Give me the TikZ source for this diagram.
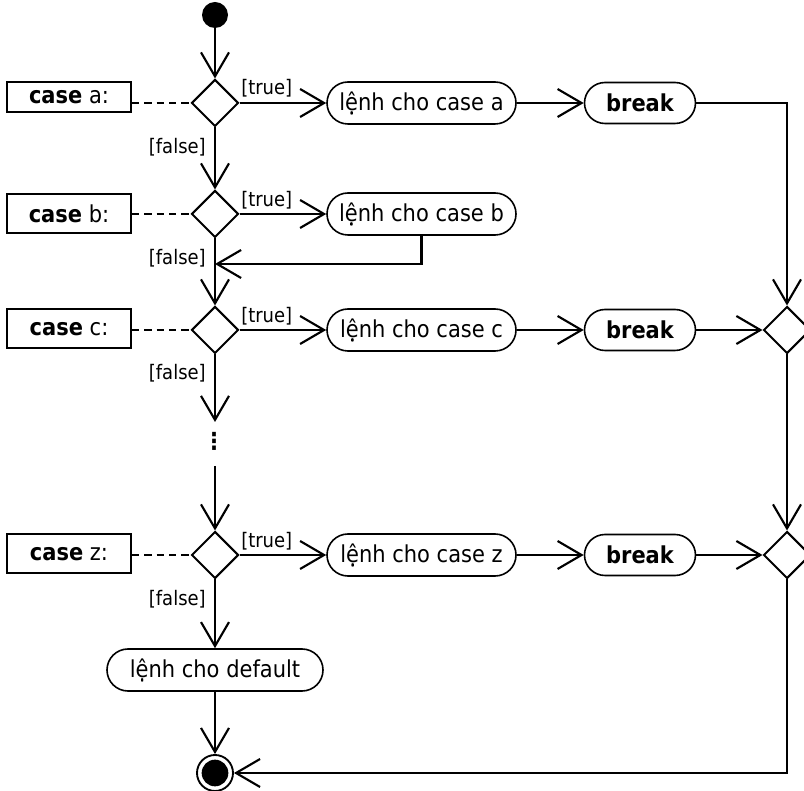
\documentclass[tikz,border=0pt]{standalone}
\usepackage{fontspec}
\setmainfont{DejaVu Sans}[FakeStretch=0.9]
\usetikzlibrary{arrows.meta,shapes.geometric}
\begin{document}
\begin{tikzpicture}[x=0.75pt,y=-0.75pt,
  flow/.style={-{Straight Barb[length=18pt,width=21pt]}, line width=1.6pt},
  dashln/.style={line width=1.1pt, dash pattern=on 5.5pt off 3.75pt},
  casebox/.style={draw, line width=1.5pt, minimum width=93pt, minimum height=29.25pt, inner sep=0pt, font=\fontsize{17.5}{21}\selectfont},
  dec/.style={draw, diamond, line width=1.5pt, minimum width=35.25pt, minimum height=35.25pt, inner sep=0pt, fill=white},
  act/.style={draw, line width=1.2pt, rounded corners=15.75pt, minimum width=141.75pt, minimum height=31.5pt, inner sep=0pt, font=\fontsize{17.5}{21}\selectfont},
  brk/.style={draw, line width=1.2pt, rounded corners=15.4pt, minimum width=83.25pt, minimum height=30.75pt, inner sep=0pt, font=\fontsize{17.5}{21}\selectfont\bfseries},
  lbl/.style={inner sep=0pt, font=\fontsize{15}{18}\selectfont}
]
\useasboundingbox (0,0) rectangle (804,791);
\clip (0,0) rectangle (804,791);

% start
\node[circle, fill=black, minimum size=19.5pt, inner sep=0pt] (start) at (215,15) {};

% decisions on the left trunk
\node[dec] (dA) at (215,103) {};
\node[dec] (dB) at (215,214) {};
\node[dec] (dC) at (215,330) {};
\node[dec] (dZ) at (215,555) {};

% case boxes
\node[casebox, minimum height=22.5pt] (boxA) at (69,97) {{\bfseries case} a:};
\node[casebox] (boxB) at (69,214) {{\bfseries case} b:};
\node[casebox] (boxC) at (69,329) {{\bfseries case} c:};
\node[casebox] (boxZ) at (69,554) {{\bfseries case} z:};

% actions
\node[act] (lA) at (421.5,103) {lệnh cho case a};
\node[act] (lB) at (421.5,214) {lệnh cho case b};
\node[act] (lC) at (421.5,330) {lệnh cho case c};
\node[act] (lZ) at (421.5,555) {lệnh cho case z};

% breaks
\node[brk] (bA) at (640,103) {break};
\node[brk] (bC) at (640,330) {break};
\node[brk] (bZ) at (640,555) {break};

% merge diamonds on the right
\node[dec] (rC) at (787,330) {};
\node[dec] (rZ) at (787,555) {};

% default and end
\node[act, minimum width=162pt] (def) at (215,670) {lệnh cho default};
\node[circle, draw, line width=1.4pt, minimum size=27pt, inner sep=0pt] (end) at (215,773) {};
\fill (end.center) circle (10pt);

% dots
\node[inner sep=0pt, font=\fontsize{17.5}{21}\selectfont\bfseries] (dots) at (214,441) {⋮};
\coordinate (dotsTop) at (215,422);
\coordinate (dotsBot) at (215,466);
\coordinate (retB) at (215,264);

% dashed links
\draw[dashln] (boxA.east |- dA.west) -- (dA.west);
\draw[dashln] (boxB.east |- dB.west) -- (dB.west);
\draw[dashln] (boxC.east |- dC.west) -- (dC.west);
\draw[dashln] (boxZ.east |- dZ.west) -- (dZ.west);

% trunk
\draw[flow] (start) -- (dA.north);
\draw[flow] (dA.south) -- (dB.north);
\draw[flow] (dB.south) -- (dC.north);
\draw[flow] (dC.south) -- (dotsTop);
\draw[flow] (dotsBot) -- (dZ.north);
\draw[flow] (dZ.south) -- (def.north);
\draw[flow] (def.south) -- (end.north);

% true branches
\draw[flow] (dA.east) -- (lA.west);
\draw[flow] (dB.east) -- (lB.west);
\draw[flow] (dC.east) -- (lC.west);
\draw[flow] (dZ.east) -- (lZ.west);
\draw[flow] (lA.east) -- (bA.west);
\draw[flow] (lC.east) -- (bC.west);
\draw[flow] (lZ.east) -- (bZ.west);
\draw[flow] (lB.south) |- (retB);

% right side
\draw[flow] (bA.east) -| (rC.north);
\draw[flow] (bC.east) -- (rC.west);
\draw[flow] (bZ.east) -- (rZ.west);
\draw[flow] (rC.south) -- (rZ.north);
\draw[flow] (rZ.south) |- (end.east);

% guards
\node[lbl, anchor=west] (tA) at (241,88) {[true]};
\node[lbl, anchor=west] (tB) at (241,200) {[true]};
\node[lbl, anchor=west] (tC) at (241,316) {[true]};
\node[lbl, anchor=west] (tZ) at (241,541) {[true]};
\node[lbl, anchor=east] (fA) at (206,147) {[false]};
\node[lbl, anchor=east] (fB) at (206,258) {[false]};
\node[lbl, anchor=east] (fC) at (206,373) {[false]};
\node[lbl, anchor=east] (fZ) at (206,599) {[false]};
\end{tikzpicture}
\end{document}
